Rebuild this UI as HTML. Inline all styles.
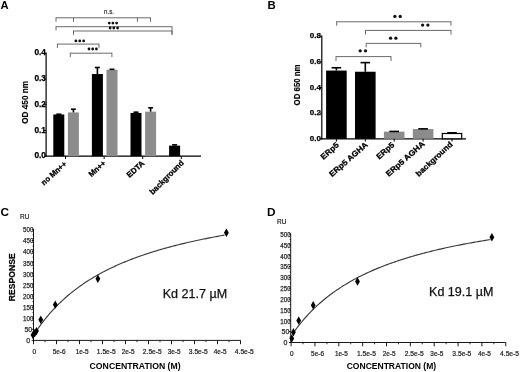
<!DOCTYPE html>
<html><head><meta charset="utf-8"><style>
html,body{margin:0;padding:0;background:#fff;}
svg{display:block;font-family:"Liberation Sans", sans-serif;will-change:transform;filter:blur(0.3px);}
</style></head><body>
<svg width="520" height="372" viewBox="0 0 520 372">
<rect width="520" height="372" fill="#fff"/>
<text x="0.50" y="8.90" font-size="11.2" font-weight="bold" fill="#000">A</text>
<line x1="46.10" y1="52.60" x2="46.10" y2="156.80" stroke="#000" stroke-width="1.2"/>
<line x1="45.70" y1="156.20" x2="201.00" y2="156.20" stroke="#000" stroke-width="1.3"/>
<line x1="44.10" y1="156.20" x2="46.10" y2="156.20" stroke="#000" stroke-width="1"/>
<text x="46.00" y="158.30" font-size="8.3" font-weight="bold" text-anchor="end" fill="#000" stroke="#000" stroke-width="0.25">0.0</text>
<line x1="44.10" y1="130.45" x2="46.10" y2="130.45" stroke="#000" stroke-width="1"/>
<text x="46.00" y="132.55" font-size="8.3" font-weight="bold" text-anchor="end" fill="#000" stroke="#000" stroke-width="0.25">0.1</text>
<line x1="44.10" y1="104.70" x2="46.10" y2="104.70" stroke="#000" stroke-width="1"/>
<text x="46.00" y="106.80" font-size="8.3" font-weight="bold" text-anchor="end" fill="#000" stroke="#000" stroke-width="0.25">0.2</text>
<line x1="44.10" y1="78.95" x2="46.10" y2="78.95" stroke="#000" stroke-width="1"/>
<text x="46.00" y="81.05" font-size="8.3" font-weight="bold" text-anchor="end" fill="#000" stroke="#000" stroke-width="0.25">0.3</text>
<line x1="44.10" y1="53.20" x2="46.10" y2="53.20" stroke="#000" stroke-width="1"/>
<text x="46.00" y="55.30" font-size="8.3" font-weight="bold" text-anchor="end" fill="#000" stroke="#000" stroke-width="0.25">0.4</text>
<text x="28.30" y="123.80" font-size="9.4" font-weight="bold" textLength="42.9" lengthAdjust="spacingAndGlyphs" transform="rotate(-90 28.30 123.80)" fill="#000" stroke="#000" stroke-width="0.15">OD 450 nm</text>
<rect x="53.30" y="114.48" width="11.00" height="41.72" fill="#000"/>
<line x1="58.80" y1="114.48" x2="58.80" y2="114.23" stroke="#000" stroke-width="1.6"/>
<line x1="56.30" y1="114.23" x2="61.30" y2="114.23" stroke="#000" stroke-width="1.6"/>
<rect x="67.90" y="112.42" width="11.00" height="43.78" fill="#8c8c8c"/>
<line x1="73.40" y1="112.42" x2="73.40" y2="109.21" stroke="#000" stroke-width="1.6"/>
<line x1="71.00" y1="109.21" x2="75.80" y2="109.21" stroke="#000" stroke-width="1.6"/>
<line x1="65.50" y1="156.20" x2="65.50" y2="159.00" stroke="#000" stroke-width="1"/>
<rect x="91.90" y="74.06" width="11.00" height="82.14" fill="#000"/>
<line x1="97.40" y1="74.06" x2="97.40" y2="67.49" stroke="#000" stroke-width="1.6"/>
<line x1="94.90" y1="67.49" x2="99.90" y2="67.49" stroke="#000" stroke-width="1.6"/>
<rect x="106.50" y="69.68" width="11.00" height="86.52" fill="#8c8c8c"/>
<line x1="112.00" y1="69.68" x2="112.00" y2="69.29" stroke="#000" stroke-width="1.6"/>
<line x1="109.60" y1="69.29" x2="114.40" y2="69.29" stroke="#000" stroke-width="1.6"/>
<line x1="104.10" y1="156.20" x2="104.10" y2="159.00" stroke="#000" stroke-width="1"/>
<rect x="130.50" y="112.94" width="11.00" height="43.26" fill="#000"/>
<line x1="136.00" y1="112.94" x2="136.00" y2="112.17" stroke="#000" stroke-width="1.6"/>
<line x1="133.50" y1="112.17" x2="138.50" y2="112.17" stroke="#000" stroke-width="1.6"/>
<rect x="145.10" y="111.65" width="11.00" height="44.55" fill="#8c8c8c"/>
<line x1="150.60" y1="111.65" x2="150.60" y2="107.79" stroke="#000" stroke-width="1.6"/>
<line x1="148.20" y1="107.79" x2="153.00" y2="107.79" stroke="#000" stroke-width="1.6"/>
<line x1="142.70" y1="156.20" x2="142.70" y2="159.00" stroke="#000" stroke-width="1"/>
<rect x="169.10" y="145.64" width="11.00" height="10.56" fill="#000"/>
<line x1="174.60" y1="145.64" x2="174.60" y2="144.87" stroke="#000" stroke-width="1.6"/>
<line x1="172.10" y1="144.87" x2="177.10" y2="144.87" stroke="#000" stroke-width="1.6"/>
<line x1="181.30" y1="156.20" x2="181.30" y2="159.00" stroke="#000" stroke-width="1"/>
<text x="44.00" y="185.70" font-size="7.9" font-weight="bold" textLength="31.25" lengthAdjust="spacingAndGlyphs" transform="rotate(-42 44.00 185.70)" fill="#000" stroke="#000" stroke-width="0.3">no Mn++</text>
<text x="91.50" y="177.30" font-size="7.9" font-weight="bold" textLength="19.85" lengthAdjust="spacingAndGlyphs" transform="rotate(-42 91.50 177.30)" fill="#000" stroke="#000" stroke-width="0.3">Mn++</text>
<text x="129.50" y="178.10" font-size="7.9" font-weight="bold" textLength="20.92" lengthAdjust="spacingAndGlyphs" transform="rotate(-42 129.50 178.10)" fill="#000" stroke="#000" stroke-width="0.3">EDTA</text>
<text x="152.70" y="195.00" font-size="7.9" font-weight="bold" textLength="44.63" lengthAdjust="spacingAndGlyphs" transform="rotate(-45 152.70 195.00)" fill="#000" stroke="#000" stroke-width="0.3">background</text>
<line x1="56.00" y1="17.80" x2="150.50" y2="17.80" stroke="#6a6a6a" stroke-width="1"/>
<line x1="56.00" y1="17.30" x2="56.00" y2="21.80" stroke="#6a6a6a" stroke-width="1"/>
<line x1="150.50" y1="17.30" x2="150.50" y2="21.80" stroke="#6a6a6a" stroke-width="1"/>
<line x1="73.50" y1="17.80" x2="73.50" y2="21.80" stroke="#6a6a6a" stroke-width="1"/>
<line x1="137.40" y1="17.80" x2="137.40" y2="21.80" stroke="#6a6a6a" stroke-width="1"/>
<line x1="56.00" y1="26.70" x2="172.00" y2="26.70" stroke="#6a6a6a" stroke-width="1"/>
<line x1="56.00" y1="26.20" x2="56.00" y2="30.50" stroke="#6a6a6a" stroke-width="1"/>
<line x1="172.00" y1="26.20" x2="172.00" y2="34.70" stroke="#6a6a6a" stroke-width="1"/>
<line x1="73.50" y1="31.00" x2="172.00" y2="31.00" stroke="#6a6a6a" stroke-width="1"/>
<line x1="73.50" y1="30.50" x2="73.50" y2="34.80" stroke="#6a6a6a" stroke-width="1"/>
<line x1="172.00" y1="30.50" x2="172.00" y2="34.80" stroke="#6a6a6a" stroke-width="1"/>
<line x1="57.40" y1="44.10" x2="99.00" y2="44.10" stroke="#6a6a6a" stroke-width="1"/>
<line x1="57.40" y1="43.60" x2="57.40" y2="47.90" stroke="#6a6a6a" stroke-width="1"/>
<line x1="99.00" y1="43.60" x2="99.00" y2="47.90" stroke="#6a6a6a" stroke-width="1"/>
<line x1="70.30" y1="53.20" x2="111.90" y2="53.20" stroke="#6a6a6a" stroke-width="1"/>
<line x1="70.30" y1="52.70" x2="70.30" y2="57.00" stroke="#6a6a6a" stroke-width="1"/>
<line x1="111.90" y1="52.70" x2="111.90" y2="57.00" stroke="#6a6a6a" stroke-width="1"/>
<text x="104.00" y="14.00" font-size="7.4" textLength="10" lengthAdjust="spacingAndGlyphs" fill="#222" stroke="#222" stroke-width="0.15">n.s.</text>
<circle cx="109.30" cy="23.10" r="1.4" fill="#111"/>
<circle cx="112.90" cy="23.10" r="1.4" fill="#111"/>
<circle cx="116.60" cy="23.10" r="1.4" fill="#111"/>
<circle cx="110.10" cy="28.00" r="1.4" fill="#111"/>
<circle cx="113.80" cy="28.00" r="1.4" fill="#111"/>
<circle cx="117.60" cy="28.00" r="1.4" fill="#111"/>
<circle cx="75.90" cy="40.90" r="1.4" fill="#111"/>
<circle cx="79.75" cy="40.90" r="1.4" fill="#111"/>
<circle cx="83.65" cy="40.90" r="1.4" fill="#111"/>
<circle cx="89.00" cy="49.00" r="1.4" fill="#111"/>
<circle cx="92.70" cy="49.00" r="1.4" fill="#111"/>
<circle cx="96.40" cy="49.00" r="1.4" fill="#111"/>
<text x="267.60" y="9.00" font-size="11.4" font-weight="bold" fill="#000">B</text>
<line x1="321.80" y1="35.60" x2="321.80" y2="139.40" stroke="#000" stroke-width="1.2"/>
<line x1="321.20" y1="138.80" x2="466.00" y2="138.80" stroke="#000" stroke-width="1.2"/>
<line x1="319.80" y1="138.80" x2="321.80" y2="138.80" stroke="#000" stroke-width="1"/>
<text x="320.90" y="140.80" font-size="8.0" font-weight="bold" text-anchor="end" fill="#000" stroke="#000" stroke-width="0.25">0.0</text>
<line x1="319.80" y1="113.15" x2="321.80" y2="113.15" stroke="#000" stroke-width="1"/>
<text x="320.90" y="115.15" font-size="8.0" font-weight="bold" text-anchor="end" fill="#000" stroke="#000" stroke-width="0.25">0.2</text>
<line x1="319.80" y1="87.50" x2="321.80" y2="87.50" stroke="#000" stroke-width="1"/>
<text x="320.90" y="89.50" font-size="8.0" font-weight="bold" text-anchor="end" fill="#000" stroke="#000" stroke-width="0.25">0.4</text>
<line x1="319.80" y1="61.85" x2="321.80" y2="61.85" stroke="#000" stroke-width="1"/>
<text x="320.90" y="63.85" font-size="8.0" font-weight="bold" text-anchor="end" fill="#000" stroke="#000" stroke-width="0.25">0.6</text>
<line x1="319.80" y1="36.20" x2="321.80" y2="36.20" stroke="#000" stroke-width="1"/>
<text x="320.90" y="38.20" font-size="8.0" font-weight="bold" text-anchor="end" fill="#000" stroke="#000" stroke-width="0.25">0.8</text>
<text x="300.10" y="105.40" font-size="8.6" font-weight="bold" textLength="41" lengthAdjust="spacingAndGlyphs" transform="rotate(-90 300.10 105.40)" fill="#000" stroke="#000" stroke-width="0.15">OD 650 nm</text>
<rect x="326.10" y="70.57" width="20.60" height="68.23" fill="#000"/>
<line x1="336.40" y1="70.57" x2="336.40" y2="67.75" stroke="#000" stroke-width="1.6"/>
<line x1="331.60" y1="67.75" x2="341.20" y2="67.75" stroke="#000" stroke-width="1.6"/>
<line x1="336.40" y1="138.80" x2="336.40" y2="141.60" stroke="#000" stroke-width="1"/>
<rect x="355.00" y="71.73" width="20.60" height="67.07" fill="#000"/>
<line x1="365.30" y1="71.73" x2="365.30" y2="62.62" stroke="#000" stroke-width="1.6"/>
<line x1="360.50" y1="62.62" x2="370.10" y2="62.62" stroke="#000" stroke-width="1.6"/>
<line x1="365.30" y1="138.80" x2="365.30" y2="141.60" stroke="#000" stroke-width="1"/>
<rect x="383.90" y="131.62" width="20.60" height="7.18" fill="#8c8c8c"/>
<line x1="394.20" y1="131.62" x2="394.20" y2="131.43" stroke="#000" stroke-width="1.6"/>
<line x1="389.40" y1="131.43" x2="399.00" y2="131.43" stroke="#000" stroke-width="1.6"/>
<line x1="394.20" y1="138.80" x2="394.20" y2="141.60" stroke="#000" stroke-width="1"/>
<rect x="412.80" y="129.05" width="20.60" height="9.75" fill="#8c8c8c"/>
<line x1="423.10" y1="129.05" x2="423.10" y2="128.86" stroke="#000" stroke-width="1.6"/>
<line x1="418.30" y1="128.86" x2="427.90" y2="128.86" stroke="#000" stroke-width="1.6"/>
<line x1="423.10" y1="138.80" x2="423.10" y2="141.60" stroke="#000" stroke-width="1"/>
<rect x="442.30" y="133.50" width="19.40" height="5.30" fill="#fff" stroke="#000" stroke-width="1.2"/>
<line x1="452.00" y1="132.90" x2="452.00" y2="132.77" stroke="#000" stroke-width="1.6"/>
<line x1="447.20" y1="132.77" x2="456.80" y2="132.77" stroke="#000" stroke-width="1.6"/>
<line x1="452.00" y1="138.80" x2="452.00" y2="141.60" stroke="#000" stroke-width="1"/>
<text x="323.60" y="159.90" font-size="7.9" font-weight="bold" textLength="21.22" lengthAdjust="spacingAndGlyphs" transform="rotate(-42 323.60 159.90)" fill="#000" stroke="#000" stroke-width="0.3">ERp5</text>
<text x="332.10" y="177.30" font-size="7.9" font-weight="bold" textLength="48.23" lengthAdjust="spacingAndGlyphs" transform="rotate(-41.2 332.10 177.30)" fill="#000" stroke="#000" stroke-width="0.3">ERp5 AGHA</text>
<text x="379.20" y="159.80" font-size="7.9" font-weight="bold" textLength="21.22" lengthAdjust="spacingAndGlyphs" transform="rotate(-42 379.20 159.80)" fill="#000" stroke="#000" stroke-width="0.3">ERp5</text>
<text x="388.80" y="177.10" font-size="7.9" font-weight="bold" textLength="48.8" lengthAdjust="spacingAndGlyphs" transform="rotate(-41.6 388.80 177.10)" fill="#000" stroke="#000" stroke-width="0.3">ERp5 AGHA</text>
<text x="418.80" y="177.00" font-size="7.9" font-weight="bold" textLength="46.92" lengthAdjust="spacingAndGlyphs" transform="rotate(-43 418.80 177.00)" fill="#000" stroke="#000" stroke-width="0.3">background</text>
<line x1="336.70" y1="21.80" x2="451.00" y2="21.80" stroke="#6a6a6a" stroke-width="1"/>
<line x1="336.70" y1="21.30" x2="336.70" y2="25.70" stroke="#6a6a6a" stroke-width="1"/>
<line x1="451.00" y1="21.30" x2="451.00" y2="25.70" stroke="#6a6a6a" stroke-width="1"/>
<line x1="365.50" y1="30.40" x2="451.00" y2="30.40" stroke="#6a6a6a" stroke-width="1"/>
<line x1="365.50" y1="29.90" x2="365.50" y2="34.50" stroke="#6a6a6a" stroke-width="1"/>
<line x1="451.00" y1="29.90" x2="451.00" y2="34.50" stroke="#6a6a6a" stroke-width="1"/>
<line x1="366.20" y1="43.40" x2="420.80" y2="43.40" stroke="#6a6a6a" stroke-width="1"/>
<line x1="366.20" y1="42.90" x2="366.20" y2="47.40" stroke="#6a6a6a" stroke-width="1"/>
<line x1="420.80" y1="42.90" x2="420.80" y2="47.40" stroke="#6a6a6a" stroke-width="1"/>
<line x1="336.00" y1="56.60" x2="391.00" y2="56.60" stroke="#6a6a6a" stroke-width="1"/>
<line x1="336.00" y1="56.10" x2="336.00" y2="61.00" stroke="#6a6a6a" stroke-width="1"/>
<line x1="391.00" y1="56.10" x2="391.00" y2="61.00" stroke="#6a6a6a" stroke-width="1"/>
<circle cx="394.90" cy="16.40" r="1.65" fill="#111"/>
<circle cx="400.20" cy="16.40" r="1.65" fill="#111"/>
<circle cx="422.60" cy="25.10" r="1.65" fill="#111"/>
<circle cx="427.90" cy="25.10" r="1.65" fill="#111"/>
<circle cx="390.60" cy="38.20" r="1.65" fill="#111"/>
<circle cx="395.90" cy="38.20" r="1.65" fill="#111"/>
<circle cx="360.20" cy="50.80" r="1.65" fill="#111"/>
<circle cx="365.50" cy="50.80" r="1.65" fill="#111"/>
<line x1="33.50" y1="228.80" x2="33.50" y2="340.90" stroke="#1a1a1a" stroke-width="1.0"/>
<line x1="33.00" y1="340.40" x2="240.50" y2="340.40" stroke="#1a1a1a" stroke-width="1.0"/>
<line x1="31.70" y1="340.40" x2="33.50" y2="340.40" stroke="#000" stroke-width="0.9"/>
<text x="28.30" y="343.20" font-size="7.8" text-anchor="middle" textLength="3.9" lengthAdjust="spacingAndGlyphs" fill="#222" stroke="#222" stroke-width="0.25">0</text>
<line x1="32.50" y1="334.85" x2="33.50" y2="334.85" stroke="#000" stroke-width="0.8"/>
<line x1="31.70" y1="329.30" x2="33.50" y2="329.30" stroke="#000" stroke-width="0.9"/>
<text x="28.30" y="332.10" font-size="7.8" text-anchor="middle" textLength="7.8" lengthAdjust="spacingAndGlyphs" fill="#222" stroke="#222" stroke-width="0.25">50</text>
<line x1="32.50" y1="323.75" x2="33.50" y2="323.75" stroke="#000" stroke-width="0.8"/>
<line x1="31.70" y1="318.20" x2="33.50" y2="318.20" stroke="#000" stroke-width="0.9"/>
<text x="28.30" y="321.00" font-size="7.8" text-anchor="middle" textLength="10.4" lengthAdjust="spacingAndGlyphs" fill="#222" stroke="#222" stroke-width="0.25">100</text>
<line x1="32.50" y1="312.65" x2="33.50" y2="312.65" stroke="#000" stroke-width="0.8"/>
<line x1="31.70" y1="307.10" x2="33.50" y2="307.10" stroke="#000" stroke-width="0.9"/>
<text x="28.30" y="309.90" font-size="7.8" text-anchor="middle" textLength="10.4" lengthAdjust="spacingAndGlyphs" fill="#222" stroke="#222" stroke-width="0.25">150</text>
<line x1="32.50" y1="301.55" x2="33.50" y2="301.55" stroke="#000" stroke-width="0.8"/>
<line x1="31.70" y1="296.00" x2="33.50" y2="296.00" stroke="#000" stroke-width="0.9"/>
<text x="28.30" y="298.80" font-size="7.8" text-anchor="middle" textLength="10.4" lengthAdjust="spacingAndGlyphs" fill="#222" stroke="#222" stroke-width="0.25">200</text>
<line x1="32.50" y1="290.45" x2="33.50" y2="290.45" stroke="#000" stroke-width="0.8"/>
<line x1="31.70" y1="284.90" x2="33.50" y2="284.90" stroke="#000" stroke-width="0.9"/>
<text x="28.30" y="287.70" font-size="7.8" text-anchor="middle" textLength="10.4" lengthAdjust="spacingAndGlyphs" fill="#222" stroke="#222" stroke-width="0.25">250</text>
<line x1="32.50" y1="279.35" x2="33.50" y2="279.35" stroke="#000" stroke-width="0.8"/>
<line x1="31.70" y1="273.80" x2="33.50" y2="273.80" stroke="#000" stroke-width="0.9"/>
<text x="28.30" y="276.60" font-size="7.8" text-anchor="middle" textLength="10.4" lengthAdjust="spacingAndGlyphs" fill="#222" stroke="#222" stroke-width="0.25">300</text>
<line x1="32.50" y1="268.25" x2="33.50" y2="268.25" stroke="#000" stroke-width="0.8"/>
<line x1="31.70" y1="262.70" x2="33.50" y2="262.70" stroke="#000" stroke-width="0.9"/>
<text x="28.30" y="265.50" font-size="7.8" text-anchor="middle" textLength="10.4" lengthAdjust="spacingAndGlyphs" fill="#222" stroke="#222" stroke-width="0.25">350</text>
<line x1="32.50" y1="257.15" x2="33.50" y2="257.15" stroke="#000" stroke-width="0.8"/>
<line x1="31.70" y1="251.60" x2="33.50" y2="251.60" stroke="#000" stroke-width="0.9"/>
<text x="28.30" y="254.40" font-size="7.8" text-anchor="middle" textLength="10.4" lengthAdjust="spacingAndGlyphs" fill="#222" stroke="#222" stroke-width="0.25">400</text>
<line x1="32.50" y1="246.05" x2="33.50" y2="246.05" stroke="#000" stroke-width="0.8"/>
<line x1="31.70" y1="240.50" x2="33.50" y2="240.50" stroke="#000" stroke-width="0.9"/>
<text x="28.30" y="243.30" font-size="7.8" text-anchor="middle" textLength="10.4" lengthAdjust="spacingAndGlyphs" fill="#222" stroke="#222" stroke-width="0.25">450</text>
<line x1="32.50" y1="234.95" x2="33.50" y2="234.95" stroke="#000" stroke-width="0.8"/>
<line x1="31.70" y1="229.40" x2="33.50" y2="229.40" stroke="#000" stroke-width="0.9"/>
<text x="28.30" y="232.20" font-size="7.8" text-anchor="middle" textLength="10.4" lengthAdjust="spacingAndGlyphs" fill="#222" stroke="#222" stroke-width="0.25">500</text>
<line x1="33.50" y1="340.40" x2="33.50" y2="344.20" stroke="#000" stroke-width="0.9"/>
<line x1="45.00" y1="340.40" x2="45.00" y2="342.20" stroke="#000" stroke-width="0.8"/>
<text x="32.42" y="354.10" font-size="6.9" textLength="3.6" lengthAdjust="spacingAndGlyphs" fill="#222" stroke="#222" stroke-width="0.22">0</text>
<line x1="56.50" y1="340.40" x2="56.50" y2="344.20" stroke="#000" stroke-width="0.9"/>
<line x1="68.00" y1="340.40" x2="68.00" y2="342.20" stroke="#000" stroke-width="0.8"/>
<text x="52.63" y="354.10" font-size="6.9" textLength="12.9" lengthAdjust="spacingAndGlyphs" fill="#222" stroke="#222" stroke-width="0.22">5e-6</text>
<line x1="79.50" y1="340.40" x2="79.50" y2="344.20" stroke="#000" stroke-width="0.9"/>
<line x1="91.00" y1="340.40" x2="91.00" y2="342.20" stroke="#000" stroke-width="0.8"/>
<text x="75.63" y="354.10" font-size="6.9" textLength="12.9" lengthAdjust="spacingAndGlyphs" fill="#222" stroke="#222" stroke-width="0.22">1e-5</text>
<line x1="102.50" y1="340.40" x2="102.50" y2="344.20" stroke="#000" stroke-width="0.9"/>
<line x1="114.00" y1="340.40" x2="114.00" y2="342.20" stroke="#000" stroke-width="0.8"/>
<text x="96.80" y="354.10" font-size="6.9" textLength="19.0" lengthAdjust="spacingAndGlyphs" fill="#222" stroke="#222" stroke-width="0.22">1.5e-5</text>
<line x1="125.50" y1="340.40" x2="125.50" y2="344.20" stroke="#000" stroke-width="0.9"/>
<line x1="137.00" y1="340.40" x2="137.00" y2="342.20" stroke="#000" stroke-width="0.8"/>
<text x="121.63" y="354.10" font-size="6.9" textLength="12.9" lengthAdjust="spacingAndGlyphs" fill="#222" stroke="#222" stroke-width="0.22">2e-5</text>
<line x1="148.50" y1="340.40" x2="148.50" y2="344.20" stroke="#000" stroke-width="0.9"/>
<line x1="160.00" y1="340.40" x2="160.00" y2="342.20" stroke="#000" stroke-width="0.8"/>
<text x="142.80" y="354.10" font-size="6.9" textLength="19.0" lengthAdjust="spacingAndGlyphs" fill="#222" stroke="#222" stroke-width="0.22">2.5e-5</text>
<line x1="171.50" y1="340.40" x2="171.50" y2="344.20" stroke="#000" stroke-width="0.9"/>
<line x1="183.00" y1="340.40" x2="183.00" y2="342.20" stroke="#000" stroke-width="0.8"/>
<text x="167.63" y="354.10" font-size="6.9" textLength="12.9" lengthAdjust="spacingAndGlyphs" fill="#222" stroke="#222" stroke-width="0.22">3e-5</text>
<line x1="194.50" y1="340.40" x2="194.50" y2="344.20" stroke="#000" stroke-width="0.9"/>
<line x1="206.00" y1="340.40" x2="206.00" y2="342.20" stroke="#000" stroke-width="0.8"/>
<text x="188.80" y="354.10" font-size="6.9" textLength="19.0" lengthAdjust="spacingAndGlyphs" fill="#222" stroke="#222" stroke-width="0.22">3.5e-5</text>
<line x1="217.50" y1="340.40" x2="217.50" y2="344.20" stroke="#000" stroke-width="0.9"/>
<line x1="229.00" y1="340.40" x2="229.00" y2="342.20" stroke="#000" stroke-width="0.8"/>
<text x="213.63" y="354.10" font-size="6.9" textLength="12.9" lengthAdjust="spacingAndGlyphs" fill="#222" stroke="#222" stroke-width="0.22">4e-5</text>
<line x1="240.50" y1="340.40" x2="240.50" y2="344.20" stroke="#000" stroke-width="0.9"/>
<text x="234.80" y="354.10" font-size="6.9" textLength="19.0" lengthAdjust="spacingAndGlyphs" fill="#222" stroke="#222" stroke-width="0.22">4.5e-5</text>
<polyline points="33.50,335.36 34.65,333.58 35.80,331.83 36.95,330.13 38.10,328.47 39.25,326.84 40.40,325.25 41.55,323.70 42.70,322.18 43.85,320.69 45.00,319.24 46.15,317.81 47.30,316.42 48.45,315.05 49.60,313.72 50.75,312.41 51.90,311.12 53.05,309.86 54.20,308.63 55.35,307.42 56.50,306.23 57.65,305.07 58.80,303.93 59.95,302.81 61.10,301.71 62.25,300.63 63.40,299.57 64.55,298.53 65.70,297.51 66.85,296.51 68.00,295.52 69.15,294.56 70.30,293.60 71.45,292.67 72.60,291.75 73.75,290.85 74.90,289.96 76.05,289.09 77.20,288.23 78.35,287.38 79.50,286.55 80.65,285.73 81.80,284.93 82.95,284.13 84.10,283.35 85.25,282.59 86.40,281.83 87.55,281.09 88.70,280.35 89.85,279.63 91.00,278.92 92.15,278.22 93.30,277.53 94.45,276.85 95.60,276.18 96.75,275.52 97.90,274.87 99.05,274.23 100.20,273.59 101.35,272.97 102.50,272.36 103.65,271.75 104.80,271.15 105.95,270.56 107.10,269.98 108.25,269.40 109.40,268.84 110.55,268.28 111.70,267.73 112.85,267.18 114.00,266.65 115.15,266.12 116.30,265.59 117.45,265.08 118.60,264.57 119.75,264.06 120.90,263.56 122.05,263.07 123.20,262.59 124.35,262.11 125.50,261.64 126.65,261.17 127.80,260.71 128.95,260.25 130.10,259.80 131.25,259.35 132.40,258.91 133.55,258.48 134.70,258.05 135.85,257.62 137.00,257.20 138.15,256.79 139.30,256.38 140.45,255.97 141.60,255.57 142.75,255.17 143.90,254.78 145.05,254.39 146.20,254.01 147.35,253.63 148.50,253.25 149.65,252.88 150.80,252.52 151.95,252.15 153.10,251.79 154.25,251.44 155.40,251.09 156.55,250.74 157.70,250.39 158.85,250.05 160.00,249.71 161.15,249.38 162.30,249.05 163.45,248.72 164.60,248.40 165.75,248.08 166.90,247.76 168.05,247.45 169.20,247.13 170.35,246.83 171.50,246.52 172.65,246.22 173.80,245.92 174.95,245.62 176.10,245.33 177.25,245.04 178.40,244.75 179.55,244.47 180.70,244.18 181.85,243.91 183.00,243.63 184.15,243.35 185.30,243.08 186.45,242.81 187.60,242.55 188.75,242.28 189.90,242.02 191.05,241.76 192.20,241.50 193.35,241.25 194.50,240.99 195.65,240.74 196.80,240.49 197.95,240.25 199.10,240.00 200.25,239.76 201.40,239.52 202.55,239.29 203.70,239.05 204.85,238.82 206.00,238.59 207.15,238.36 208.30,238.13 209.45,237.90 210.60,237.68 211.75,237.46 212.90,237.24 214.05,237.02 215.20,236.80 216.35,236.59 217.50,236.37 218.65,236.16 219.80,235.95 220.95,235.75 222.10,235.54 223.25,235.34 224.40,235.13" fill="none" stroke="#3a3a3a" stroke-width="1.15"/>
<path d="M33.04 330.87 L35.44 335.07 L33.04 339.27 L30.64 335.07Z" fill="#000"/>
<path d="M34.88 328.87 L37.28 333.07 L34.88 337.27 L32.48 333.07Z" fill="#000"/>
<path d="M36.49 326.88 L38.89 331.08 L36.49 335.28 L34.09 331.08Z" fill="#000"/>
<path d="M40.77 315.55 L43.17 319.75 L40.77 323.95 L38.37 319.75Z" fill="#000"/>
<path d="M55.26 300.46 L57.66 304.66 L55.26 308.86 L52.86 304.66Z" fill="#000"/>
<path d="M97.90 274.59 L100.30 278.79 L97.90 282.99 L95.50 278.79Z" fill="#000"/>
<path d="M226.38 228.53 L228.78 232.73 L226.38 236.93 L223.98 232.73Z" fill="#000"/>
<text x="162.70" y="297.90" font-size="12.6" textLength="64.5" lengthAdjust="spacingAndGlyphs" fill="#111" stroke="#111" stroke-width="0.25">Kd 21.7 µM</text>
<text x="0.60" y="215.60" font-size="11.8" font-weight="bold" fill="#000">C</text>
<text x="20.00" y="218.80" font-size="7.0" textLength="9.4" lengthAdjust="spacingAndGlyphs" fill="#1a1a1a" stroke="#1a1a1a" stroke-width="0.2">RU</text>
<text x="89.60" y="369.20" font-size="9.2" font-weight="bold" textLength="91" lengthAdjust="spacingAndGlyphs" fill="#000">CONCENTRATION (M)</text>
<text x="15.20" y="301.20" font-size="9.7" font-weight="bold" textLength="48.0" lengthAdjust="spacingAndGlyphs" transform="rotate(-90 15.20 301.20)" fill="#000" stroke="#000" stroke-width="0.2">RESPONSE</text>
<line x1="290.70" y1="233.40" x2="290.70" y2="343.00" stroke="#1a1a1a" stroke-width="1.0"/>
<line x1="290.20" y1="342.50" x2="505.75" y2="342.50" stroke="#1a1a1a" stroke-width="1.0"/>
<line x1="288.90" y1="342.50" x2="290.70" y2="342.50" stroke="#000" stroke-width="0.9"/>
<text x="285.50" y="345.30" font-size="7.8" text-anchor="middle" textLength="3.9" lengthAdjust="spacingAndGlyphs" fill="#222" stroke="#222" stroke-width="0.25">0</text>
<line x1="289.70" y1="337.07" x2="290.70" y2="337.07" stroke="#000" stroke-width="0.8"/>
<line x1="288.90" y1="331.65" x2="290.70" y2="331.65" stroke="#000" stroke-width="0.9"/>
<text x="285.50" y="334.45" font-size="7.8" text-anchor="middle" textLength="7.8" lengthAdjust="spacingAndGlyphs" fill="#222" stroke="#222" stroke-width="0.25">50</text>
<line x1="289.70" y1="326.23" x2="290.70" y2="326.23" stroke="#000" stroke-width="0.8"/>
<line x1="288.90" y1="320.80" x2="290.70" y2="320.80" stroke="#000" stroke-width="0.9"/>
<text x="285.50" y="323.60" font-size="7.8" text-anchor="middle" textLength="10.4" lengthAdjust="spacingAndGlyphs" fill="#222" stroke="#222" stroke-width="0.25">100</text>
<line x1="289.70" y1="315.38" x2="290.70" y2="315.38" stroke="#000" stroke-width="0.8"/>
<line x1="288.90" y1="309.95" x2="290.70" y2="309.95" stroke="#000" stroke-width="0.9"/>
<text x="285.50" y="312.75" font-size="7.8" text-anchor="middle" textLength="10.4" lengthAdjust="spacingAndGlyphs" fill="#222" stroke="#222" stroke-width="0.25">150</text>
<line x1="289.70" y1="304.52" x2="290.70" y2="304.52" stroke="#000" stroke-width="0.8"/>
<line x1="288.90" y1="299.10" x2="290.70" y2="299.10" stroke="#000" stroke-width="0.9"/>
<text x="285.50" y="301.90" font-size="7.8" text-anchor="middle" textLength="10.4" lengthAdjust="spacingAndGlyphs" fill="#222" stroke="#222" stroke-width="0.25">200</text>
<line x1="289.70" y1="293.68" x2="290.70" y2="293.68" stroke="#000" stroke-width="0.8"/>
<line x1="288.90" y1="288.25" x2="290.70" y2="288.25" stroke="#000" stroke-width="0.9"/>
<text x="285.50" y="291.05" font-size="7.8" text-anchor="middle" textLength="10.4" lengthAdjust="spacingAndGlyphs" fill="#222" stroke="#222" stroke-width="0.25">250</text>
<line x1="289.70" y1="282.82" x2="290.70" y2="282.82" stroke="#000" stroke-width="0.8"/>
<line x1="288.90" y1="277.40" x2="290.70" y2="277.40" stroke="#000" stroke-width="0.9"/>
<text x="285.50" y="280.20" font-size="7.8" text-anchor="middle" textLength="10.4" lengthAdjust="spacingAndGlyphs" fill="#222" stroke="#222" stroke-width="0.25">300</text>
<line x1="289.70" y1="271.98" x2="290.70" y2="271.98" stroke="#000" stroke-width="0.8"/>
<line x1="288.90" y1="266.55" x2="290.70" y2="266.55" stroke="#000" stroke-width="0.9"/>
<text x="285.50" y="269.35" font-size="7.8" text-anchor="middle" textLength="10.4" lengthAdjust="spacingAndGlyphs" fill="#222" stroke="#222" stroke-width="0.25">350</text>
<line x1="289.70" y1="261.12" x2="290.70" y2="261.12" stroke="#000" stroke-width="0.8"/>
<line x1="288.90" y1="255.70" x2="290.70" y2="255.70" stroke="#000" stroke-width="0.9"/>
<text x="285.50" y="258.50" font-size="7.8" text-anchor="middle" textLength="10.4" lengthAdjust="spacingAndGlyphs" fill="#222" stroke="#222" stroke-width="0.25">400</text>
<line x1="289.70" y1="250.28" x2="290.70" y2="250.28" stroke="#000" stroke-width="0.8"/>
<line x1="288.90" y1="244.85" x2="290.70" y2="244.85" stroke="#000" stroke-width="0.9"/>
<text x="285.50" y="247.65" font-size="7.8" text-anchor="middle" textLength="10.4" lengthAdjust="spacingAndGlyphs" fill="#222" stroke="#222" stroke-width="0.25">450</text>
<line x1="289.70" y1="239.43" x2="290.70" y2="239.43" stroke="#000" stroke-width="0.8"/>
<line x1="288.90" y1="234.00" x2="290.70" y2="234.00" stroke="#000" stroke-width="0.9"/>
<text x="285.50" y="236.80" font-size="7.8" text-anchor="middle" textLength="10.4" lengthAdjust="spacingAndGlyphs" fill="#222" stroke="#222" stroke-width="0.25">500</text>
<line x1="291.10" y1="342.50" x2="291.10" y2="346.30" stroke="#000" stroke-width="0.9"/>
<line x1="303.03" y1="342.50" x2="303.03" y2="344.30" stroke="#000" stroke-width="0.8"/>
<text x="290.02" y="356.20" font-size="6.9" textLength="3.6" lengthAdjust="spacingAndGlyphs" fill="#222" stroke="#222" stroke-width="0.22">0</text>
<line x1="314.95" y1="342.50" x2="314.95" y2="346.30" stroke="#000" stroke-width="0.9"/>
<line x1="326.88" y1="342.50" x2="326.88" y2="344.30" stroke="#000" stroke-width="0.8"/>
<text x="311.08" y="356.20" font-size="6.9" textLength="12.9" lengthAdjust="spacingAndGlyphs" fill="#222" stroke="#222" stroke-width="0.22">5e-6</text>
<line x1="338.80" y1="342.50" x2="338.80" y2="346.30" stroke="#000" stroke-width="0.9"/>
<line x1="350.73" y1="342.50" x2="350.73" y2="344.30" stroke="#000" stroke-width="0.8"/>
<text x="334.93" y="356.20" font-size="6.9" textLength="12.9" lengthAdjust="spacingAndGlyphs" fill="#222" stroke="#222" stroke-width="0.22">1e-5</text>
<line x1="362.65" y1="342.50" x2="362.65" y2="346.30" stroke="#000" stroke-width="0.9"/>
<line x1="374.58" y1="342.50" x2="374.58" y2="344.30" stroke="#000" stroke-width="0.8"/>
<text x="356.95" y="356.20" font-size="6.9" textLength="19.0" lengthAdjust="spacingAndGlyphs" fill="#222" stroke="#222" stroke-width="0.22">1.5e-5</text>
<line x1="386.50" y1="342.50" x2="386.50" y2="346.30" stroke="#000" stroke-width="0.9"/>
<line x1="398.43" y1="342.50" x2="398.43" y2="344.30" stroke="#000" stroke-width="0.8"/>
<text x="382.63" y="356.20" font-size="6.9" textLength="12.9" lengthAdjust="spacingAndGlyphs" fill="#222" stroke="#222" stroke-width="0.22">2e-5</text>
<line x1="410.35" y1="342.50" x2="410.35" y2="346.30" stroke="#000" stroke-width="0.9"/>
<line x1="422.27" y1="342.50" x2="422.27" y2="344.30" stroke="#000" stroke-width="0.8"/>
<text x="404.65" y="356.20" font-size="6.9" textLength="19.0" lengthAdjust="spacingAndGlyphs" fill="#222" stroke="#222" stroke-width="0.22">2.5e-5</text>
<line x1="434.20" y1="342.50" x2="434.20" y2="346.30" stroke="#000" stroke-width="0.9"/>
<line x1="446.12" y1="342.50" x2="446.12" y2="344.30" stroke="#000" stroke-width="0.8"/>
<text x="430.33" y="356.20" font-size="6.9" textLength="12.9" lengthAdjust="spacingAndGlyphs" fill="#222" stroke="#222" stroke-width="0.22">3e-5</text>
<line x1="458.05" y1="342.50" x2="458.05" y2="346.30" stroke="#000" stroke-width="0.9"/>
<line x1="469.98" y1="342.50" x2="469.98" y2="344.30" stroke="#000" stroke-width="0.8"/>
<text x="452.35" y="356.20" font-size="6.9" textLength="19.0" lengthAdjust="spacingAndGlyphs" fill="#222" stroke="#222" stroke-width="0.22">3.5e-5</text>
<line x1="481.90" y1="342.50" x2="481.90" y2="346.30" stroke="#000" stroke-width="0.9"/>
<line x1="493.83" y1="342.50" x2="493.83" y2="344.30" stroke="#000" stroke-width="0.8"/>
<text x="478.03" y="356.20" font-size="6.9" textLength="12.9" lengthAdjust="spacingAndGlyphs" fill="#222" stroke="#222" stroke-width="0.22">4e-5</text>
<line x1="505.75" y1="342.50" x2="505.75" y2="346.30" stroke="#000" stroke-width="0.9"/>
<text x="500.05" y="356.20" font-size="6.9" textLength="19.0" lengthAdjust="spacingAndGlyphs" fill="#222" stroke="#222" stroke-width="0.22">4.5e-5</text>
<polyline points="292.29,334.36 293.49,332.65 294.68,330.98 295.87,329.35 297.06,327.76 298.25,326.20 299.45,324.69 300.64,323.20 301.83,321.75 303.03,320.33 304.22,318.94 305.41,317.58 306.60,316.25 307.80,314.95 308.99,313.68 310.18,312.43 311.37,311.21 312.56,310.01 313.76,308.83 314.95,307.68 316.14,306.56 317.34,305.45 318.53,304.36 319.72,303.30 320.91,302.26 322.11,301.23 323.30,300.23 324.49,299.24 325.68,298.27 326.88,297.32 328.07,296.39 329.26,295.47 330.45,294.57 331.65,293.68 332.84,292.81 334.03,291.96 335.22,291.12 336.42,290.29 337.61,289.48 338.80,288.68 339.99,287.89 341.19,287.12 342.38,286.35 343.57,285.61 344.76,284.87 345.96,284.14 347.15,283.43 348.34,282.73 349.53,282.03 350.73,281.35 351.92,280.68 353.11,280.02 354.30,279.37 355.50,278.73 356.69,278.10 357.88,277.47 359.07,276.86 360.26,276.26 361.46,275.66 362.65,275.07 363.84,274.49 365.04,273.92 366.23,273.36 367.42,272.80 368.61,272.25 369.81,271.71 371.00,271.18 372.19,270.65 373.38,270.13 374.58,269.62 375.77,269.12 376.96,268.62 378.15,268.13 379.35,267.64 380.54,267.16 381.73,266.69 382.92,266.22 384.12,265.76 385.31,265.30 386.50,264.85 387.69,264.41 388.88,263.97 390.08,263.54 391.27,263.11 392.46,262.68 393.66,262.27 394.85,261.85 396.04,261.44 397.23,261.04 398.43,260.64 399.62,260.25 400.81,259.86 402.00,259.47 403.19,259.09 404.39,258.72 405.58,258.34 406.77,257.98 407.97,257.61 409.16,257.25 410.35,256.90 411.54,256.54 412.74,256.20 413.93,255.85 415.12,255.51 416.31,255.17 417.50,254.84 418.70,254.51 419.89,254.19 421.08,253.86 422.27,253.54 423.47,253.23 424.66,252.91 425.85,252.60 427.05,252.30 428.24,252.00 429.43,251.70 430.62,251.40 431.81,251.10 433.01,250.81 434.20,250.52 435.39,250.24 436.59,249.96 437.78,249.68 438.97,249.40 440.16,249.13 441.36,248.85 442.55,248.58 443.74,248.32 444.93,248.05 446.12,247.79 447.32,247.53 448.51,247.28 449.70,247.02 450.89,246.77 452.09,246.52 453.28,246.27 454.47,246.03 455.67,245.79 456.86,245.55 458.05,245.31 459.24,245.07 460.44,244.84 461.63,244.61 462.82,244.38 464.01,244.15 465.21,243.92 466.40,243.70 467.59,243.48 468.78,243.26 469.98,243.04 471.17,242.82 472.36,242.61 473.55,242.40 474.75,242.19 475.94,241.98 477.13,241.77 478.32,241.56 479.51,241.36 480.71,241.16 481.90,240.96 483.09,240.76 484.28,240.56 485.48,240.37 486.67,240.17 487.86,239.98 489.06,239.79 490.25,239.60" fill="none" stroke="#3a3a3a" stroke-width="1.15"/>
<path d="M291.80 334.20 L294.20 338.40 L291.80 342.60 L289.40 338.40Z" fill="#000"/>
<path d="M293.40 328.10 L295.80 332.30 L293.40 336.50 L291.00 332.30Z" fill="#000"/>
<path d="M298.70 316.40 L301.10 320.60 L298.70 324.80 L296.30 320.60Z" fill="#000"/>
<path d="M313.20 301.11 L315.60 305.31 L313.20 309.51 L310.80 305.31Z" fill="#000"/>
<path d="M357.50 277.30 L359.90 281.50 L357.50 285.70 L355.10 281.50Z" fill="#000"/>
<path d="M491.90 233.10 L494.30 237.30 L491.90 241.50 L489.50 237.30Z" fill="#000"/>
<text x="429.00" y="296.10" font-size="12.6" textLength="64.5" lengthAdjust="spacingAndGlyphs" fill="#111" stroke="#111" stroke-width="0.25">Kd 19.1 µM</text>
<text x="267.10" y="215.60" font-size="11.8" font-weight="bold" fill="#000">D</text>
<text x="277.00" y="223.50" font-size="7.0" textLength="9.4" lengthAdjust="spacingAndGlyphs" fill="#1a1a1a" stroke="#1a1a1a" stroke-width="0.2">RU</text>
<text x="346.70" y="369.20" font-size="9.2" font-weight="bold" textLength="89.4" lengthAdjust="spacingAndGlyphs" fill="#000">CONCENTRATION (M)</text>
</svg>
</body></html>
